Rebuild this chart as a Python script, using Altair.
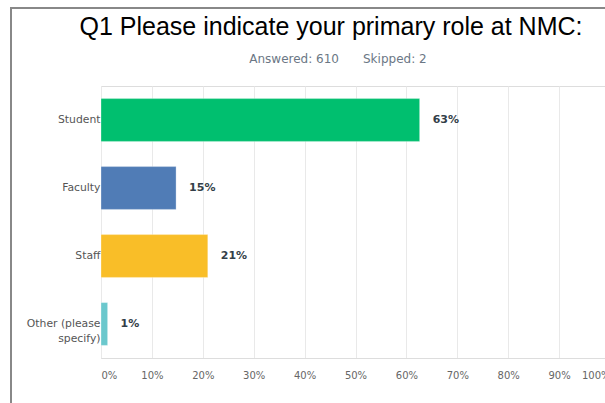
import altair as alt
import pandas as pd

roles = ["Student", "Faculty", "Staff", "Other (please specify)"]
shares = [62.6, 14.75, 20.98, 1.3]
labels = ["63%", "15%", "21%", "1%"]
colors = ["#00BF6F", "#507CB6", "#F9BE28", "#6BC8CD"]
title_text = "Q1 Please indicate your primary role at NMC:"
answered_text = "Answered: 610"
skipped_text = "Skipped: 2"

df = pd.DataFrame({"role": roles, "share": shares, "label": labels})
one = pd.DataFrame({"t": [title_text], "a": [answered_text], "s": [skipped_text]})

y_enc = alt.Y(
    "role:N",
    sort=roles,
    title=None,
    scale=alt.Scale(paddingInner=0.37, paddingOuter=0.185),
    axis=alt.Axis(
        ticks=False,
        domain=False,
        labelPadding=1,
        labelFont="DejaVu Sans",
        labelFontSize=10.8,
        labelColor="#555555",
        labelLineHeight=15,
        labelExpr="datum.label == 'Other (please specify)' ? ['Other (please', 'specify)'] : datum.label",
    ),
)

x_enc = alt.X(
    "share:Q",
    title=None,
    scale=alt.Scale(domain=[0, 100], range=[0, 509], nice=False),
    axis=alt.Axis(
        values=[0, 10, 20, 30, 40, 50, 60, 70, 80, 90, 100],
        labelExpr="datum.value + '%'",
        labelFlush=True,
        labelFont="DejaVu Sans",
        labelFontSize=10,
        labelColor="#666666",
        labelPadding=12,
        ticks=False,
        domainColor="#dddddd",
        gridColor="#e9e9e9",
    ),
)

bars = alt.Chart(df).mark_bar(stroke="#ffffff", strokeWidth=0.5, strokeOpacity=0.6).encode(
    y=y_enc,
    x=x_enc,
    color=alt.Color("role:N", scale=alt.Scale(domain=roles, range=colors), legend=None),
)

text = alt.Chart(df).mark_text(
    align="left", baseline="middle", dx=13, font="DejaVu Sans", fontSize=11,
    fontWeight="bold", color="#333e48",
).encode(y=alt.Y("role:N", sort=roles), x="share:Q", text="label:N")

title_mark = alt.Chart(one).mark_text(
    align="center", baseline="alphabetic", font="Liberation Sans", fontSize=25, color="#000000"
).encode(x=alt.value(230), y=alt.value(-51), text="t:N")

answered_mark = alt.Chart(one).mark_text(
    align="right", baseline="alphabetic", font="DejaVu Sans", fontSize=12, color="#6b7785"
).encode(x=alt.value(238), y=alt.value(-23), text="a:N")

skipped_mark = alt.Chart(one).mark_text(
    align="left", baseline="alphabetic", font="DejaVu Sans", fontSize=12, color="#6b7785"
).encode(x=alt.value(262), y=alt.value(-23), text="s:N")

frame_left = alt.Chart(one).mark_rule(color="#888888", strokeWidth=2).encode(
    x=alt.value(-90), y=alt.value(-78), y2=alt.value(330)
)
frame_top = alt.Chart(one).mark_rule(color="#888888", strokeWidth=2).encode(
    x=alt.value(-91), x2=alt.value(520), y=alt.value(-78)
)

chart = (
    alt.layer(bars, text, title_mark, answered_mark, skipped_mark, frame_left, frame_top)
    .properties(
        width=504,
        height=272,
        padding={"left": 101, "top": 86, "right": 0, "bottom": 45},
        autosize=alt.AutoSizeParams(type="none"),
    )
    .configure_view(stroke=None)
    .configure(background="#ffffff")
)

chart.save("out.html", embed_options={"renderer": "svg", "actions": False})
